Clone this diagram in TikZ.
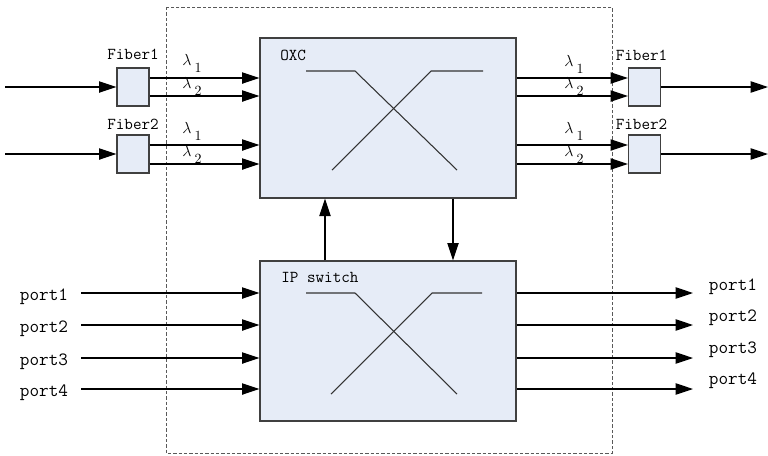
\documentclass[tikz,border=0pt]{standalone}
\usepackage{fontspec}
\usetikzlibrary{arrows.meta}
\definecolor{boxblue}{RGB}{230,236,247}
\definecolor{edgegray}{RGB}{64,64,64}
\tikzset{
  blk/.style={draw=edgegray, fill=boxblue, line width=1pt, inner sep=0pt},
  bigblk/.style={blk, minimum width=192pt, minimum height=120pt},
  fib/.style={blk, minimum width=24pt, minimum height=28.5pt},
  arr/.style={-{Triangle[length=13pt,width=8.5pt]}, line width=0.9pt},
  xline/.style={line width=0.8pt, draw=black!80},
  dbox/.style={draw=black!65, dash pattern=on 2.4pt off 1.6pt, line width=0.7pt},
  lbl/.style={font=\ttfamily\fontsize{12.5}{13}\selectfont, inner sep=0pt},
  plbl/.style={font=\ttfamily\fontsize{14}{15}\selectfont, inner sep=0pt},
  lam/.style={inner sep=0pt, anchor=west, font=\fontsize{13}{14}\selectfont}
}
\newcommand{\lamsub}[1]{$\lambda$\hspace{2.5pt}\raisebox{-0.4em}{\fontsize{10.5}{11}\selectfont #1}}
\begin{document}
\begin{tikzpicture}[x=0.75pt,y=-0.75pt]
\useasboundingbox (0,0) rectangle (768,455);
% dashed outer box
\draw[dbox] (166,7) rectangle (612,453);
% main blocks
\node[bigblk] (oxc) at (388,118) {};
\node[bigblk] (ip) at (388,341) {};
\node[lbl, anchor=west] (oxct) at (280,55) {OXC};
\node[lbl, anchor=west] (ipt) at (281,277) {IP switch};
% cross lines
\draw[xline] (306,71) -- (355,71) -- (457,170);
\draw[xline] (332,170) -- (431,71) -- (483,71);
\draw[xline] (306,293) -- (355,293) -- (457,394);
\draw[xline] (331,394) -- (432,293) -- (482,293);
% fiber boxes
\node[fib] (f1l) at (133,87) {};
\node[fib] (f2l) at (133,154) {};
\node[fib] (f1r) at (644.5,87) {};
\node[fib] (f2r) at (644.5,154) {};
\node[lbl] (f1lt) at (133,54) {Fiber1};
\node[lbl] (f2lt) at (133,124) {Fiber2};
\node[lbl] (f1rt) at (641.5,55) {Fiber1};
\node[lbl] (f2rt) at (641.5,124) {Fiber2};
% input / output fibers
\coordinate (in1) at (5,87);
\coordinate (in2) at (5,154);
\coordinate (out1) at (768,87);
\coordinate (out2) at (768,154);
\draw[arr] (in1) -- (f1l.west);
\draw[arr] (in2) -- (f2l.west);
\draw[arr] (f1r.east) -- (out1);
\draw[arr] (f2r.east) -- (out2);
% wavelength lines
\foreach \yy/\src/\dst in {78/f1l/f1r, 96/f1l/f1r, 145/f2l/f2r, 164/f2l/f2r}{
  \draw[arr] (\src.east |- 0,\yy) -- (oxc.west |- 0,\yy);
  \draw[arr] (oxc.east |- 0,\yy) -- (\dst.west |- 0,\yy);
}
\node[lam] (l11) at (182,63) {\lamsub{1}};
\node[lam] (l12) at (182,86) {\lamsub{2}};
\node[lam] (l21) at (182,131) {\lamsub{1}};
\node[lam] (l22) at (182,154) {\lamsub{2}};
\node[lam] (r11) at (564,64) {\lamsub{1}};
\node[lam] (r12) at (564,86) {\lamsub{2}};
\node[lam] (r21) at (564,131) {\lamsub{1}};
\node[lam] (r22) at (564,154) {\lamsub{2}};
% vertical links
\draw[arr] (ip.north -| 325,0) -- (oxc.south -| 325,0);
\draw[arr] (oxc.south -| 453,0) -- (ip.north -| 453,0);
% ports
\foreach \i/\yy/\ty/\tr in {1/293/297/287, 2/325/329/318, 3/358/362/350, 4/389/393/381}{
  \node[plbl] (pl\i) at (44,\ty) {port\i};
  \node[plbl] (pr\i) at (733,\tr) {port\i};
  \coordinate (pin\i) at (81,\yy);
  \coordinate (pout\i) at (693,\yy);
  \draw[arr] (pin\i) -- (ip.west |- pin\i);
  \draw[arr] (ip.east |- pout\i) -- (pout\i);
}
\end{tikzpicture}
\end{document}
